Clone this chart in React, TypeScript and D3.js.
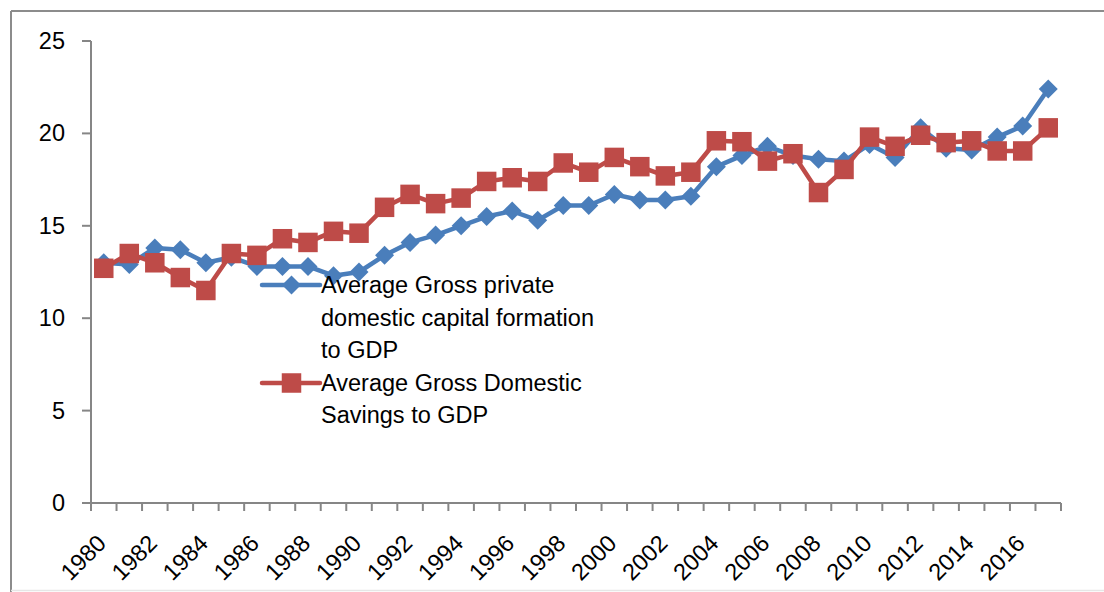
import React from "react";
import * as d3 from "d3";

const years: number[] = d3.range(1980, 2018);
const privateCapital: number[] = [
  13.0, 12.9, 13.8, 13.7, 13.0, 13.3, 12.8, 12.8, 12.8, 12.3,
  12.5, 13.4, 14.1, 14.5, 15.0, 15.5, 15.8, 15.3, 16.1, 16.1,
  16.7, 16.4, 16.4, 16.6, 18.2, 18.8, 19.3, 18.8, 18.6, 18.5,
  19.4, 18.7, 20.3, 19.2, 19.1, 19.8, 20.4, 22.4,
];
const domesticSavings: number[] = [
  12.7, 13.5, 13.0, 12.2, 11.5, 13.5, 13.4, 14.3, 14.1, 14.7,
  14.6, 16.0, 16.7, 16.2, 16.5, 17.4, 17.6, 17.4, 18.4, 17.9,
  18.7, 18.2, 17.7, 17.9, 19.6, 19.55, 18.5, 18.9, 16.8, 18.05,
  19.8, 19.3, 19.9, 19.5, 19.6, 19.05, 19.05, 20.3,
];
const yTicks: number[] = [0, 5, 10, 15, 20, 25];
const seriesNames: string[][] = [
  ["Average Gross private", "domestic capital formation", "to GDP"],
  ["Average Gross Domestic", "Savings to GDP"],
];

const W = 1104;
const H = 592;
const BLUE = "#4a7ebb";
const RED = "#be4b48";
const AXIS = "#868686";
const FONT = "'Liberation Sans', Arial, sans-serif";

export default function App() {
  const x = d3.scaleBand<number>().domain(years).range([91, 1061]).padding(0);
  const y = d3.scaleLinear().domain([0, 25]).range([503, 41]);
  const bw = x.bandwidth();
  const cx = (yr: number) => (x(yr) as number) + bw / 2;

  const line = d3
    .line<number>()
    .x((_, i) => cx(years[i]))
    .y((v) => y(v));

  const diamond = (px: number, py: number, r = 9.5) =>
    `M${px},${py - r}L${px + r},${py}L${px},${py + r}L${px - r},${py}Z`;
  const sq = 19.5;

  const legX = 262;
  const legTextX = 321;
  const legRows1 = [285, 318, 350];
  const legRows2 = [383, 415];
  const fs = 23.5;

  return (
    <svg
      width={W}
      height={H}
      style={{ position: "absolute", left: 0, top: 0, background: "#fff" }}
      fontFamily={FONT}
    >
      <rect x={0} y={0} width={W} height={H} fill="#fff" />
      {/* outer border */}
      <line x1={11} y1={11} x2={W} y2={11} stroke="#8c8c8c" strokeWidth={2} />
      <line x1={11} y1={11} x2={11} y2={H} stroke="#8c8c8c" strokeWidth={2} />
      <line x1={11} y1={590.5} x2={W} y2={590.5} stroke="#e6e6e6" strokeWidth={1.5} />

      {/* y axis */}
      <line x1={91} y1={y(25)} x2={91} y2={y(0)} stroke={AXIS} strokeWidth={2} />
      {yTicks.map((t) => (
        <g key={t}>
          <line x1={82} x2={91} y1={y(t)} y2={y(t)} stroke={AXIS} strokeWidth={2} />
          <text
            x={65}
            y={y(t)}
            textAnchor="end"
            dominantBaseline="central"
            fontSize={fs}
            fill="#000"
          >
            {t}
          </text>
        </g>
      ))}

      {/* x axis */}
      <line x1={82} x2={1061} y1={y(0)} y2={y(0)} stroke={AXIS} strokeWidth={2} />
      {d3.range(years.length + 1).map((i) => {
        const px = 91 + i * bw;
        return (
          <line key={i} x1={px} x2={px} y1={y(0)} y2={y(0) + 8} stroke={AXIS} strokeWidth={2} />
        );
      })}
      {years
        .filter((yr) => (yr - 1980) % 2 === 0)
        .map((yr) => (
          <text
            key={yr}
            transform={`translate(${cx(yr) - 2},${539}) rotate(-45)`}
            textAnchor="end"
            dominantBaseline="central"
            fontSize={fs}
            fill="#000"
          >
            {yr}
          </text>
        ))}

      {/* series lines */}
      <path d={line(privateCapital) as string} fill="none" stroke={BLUE} strokeWidth={4.5} strokeLinejoin="round" />
      {privateCapital.map((v, i) => (
        <path key={"b" + i} d={diamond(cx(years[i]), y(v))} fill={BLUE} />
      ))}
      <path d={line(domesticSavings) as string} fill="none" stroke={RED} strokeWidth={4.5} strokeLinejoin="round" />
      {domesticSavings.map((v, i) => (
        <rect
          key={"r" + i}
          x={cx(years[i]) - sq / 2}
          y={y(v) - sq / 2}
          width={sq}
          height={sq}
          fill={RED}
        />
      ))}

      {/* legend */}
      <line x1={legX} x2={legTextX - 1} y1={legRows1[0]} y2={legRows1[0]} stroke={BLUE} strokeWidth={4.5} strokeLinecap="round" />
      <path d={diamond((legX + legTextX) / 2, legRows1[0])} fill={BLUE} />
      {seriesNames[0].map((s, i) => (
        <text key={"l1" + i} x={legTextX} y={legRows1[i]} dominantBaseline="central" fontSize={fs} fill="#000">
          {s}
        </text>
      ))}
      <line x1={legX} x2={legTextX - 1} y1={legRows2[0]} y2={legRows2[0]} stroke={RED} strokeWidth={4.5} strokeLinecap="round" />
      <rect x={(legX + legTextX) / 2 - sq / 2} y={legRows2[0] - sq / 2} width={sq} height={sq} fill={RED} />
      {seriesNames[1].map((s, i) => (
        <text key={"l2" + i} x={legTextX} y={legRows2[i]} dominantBaseline="central" fontSize={fs} fill="#000">
          {s}
        </text>
      ))}
    </svg>
  );
}
